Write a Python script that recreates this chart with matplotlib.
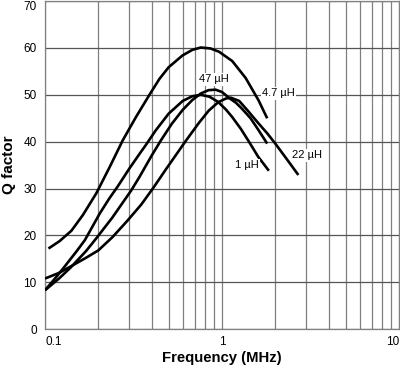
import matplotlib
matplotlib.use("Agg")
from matplotlib import pyplot as plt
from matplotlib.ticker import FixedLocator, NullFormatter

plt.rcParams['font.family'] = ['Liberation Sans', 'DejaVu Sans']

# curves (frequency in MHz, Q factor)
f_4u7 = [0.1046, 0.121, 0.141, 0.164, 0.195, 0.232, 0.275, 0.327, 0.389, 0.443, 0.5,
         0.598, 0.68, 0.759, 0.86, 0.962, 1.143, 1.36, 1.61, 1.8]
q_4u7 = [17.2, 18.8, 21.0, 24.4, 29.0, 34.6, 40.3, 45.3, 50.0, 53.4, 55.9,
         58.4, 59.6, 60.1, 59.9, 59.2, 57.2, 53.6, 48.8, 45.0]

f_1u = [0.1, 0.115, 0.13, 0.15, 0.168, 0.204, 0.23, 0.258, 0.3, 0.342, 0.373, 0.42,
        0.5, 0.6, 0.68, 0.76, 0.85, 0.95, 1.05, 1.14, 1.28, 1.42, 1.6, 1.84]
q_1u = [8.3, 11.0, 13.5, 16.5, 19.0, 24.7, 27.8, 30.5, 34.3, 37.4, 39.4, 42.3,
        46.0, 48.7, 49.7, 50.0, 49.6, 48.5, 46.9, 45.3, 42.7, 40.0, 36.8, 33.8]

f_47u = [0.1, 0.12, 0.14, 0.17, 0.196, 0.24, 0.307, 0.342, 0.4, 0.452, 0.52, 0.6,
         0.68, 0.76, 0.84, 0.92, 1.0, 1.1, 1.2, 1.3, 1.45, 1.6, 1.8]
q_47u = [8.3, 10.8, 13.2, 16.6, 19.5, 23.8, 29.6, 32.5, 37.0, 40.3, 43.8, 46.8,
         48.9, 50.3, 51.0, 51.1, 50.6, 49.3, 48.3, 47.0, 45.0, 42.6, 39.6]

f_22u = [0.1, 0.12, 0.14, 0.17, 0.2, 0.24, 0.29, 0.35, 0.41, 0.48, 0.55, 0.625, 0.74,
         0.84, 0.95, 1.05, 1.12, 1.25, 1.4, 1.6, 1.8, 2.0, 2.3, 2.7]
q_22u = [10.8, 12.0, 13.4, 15.2, 16.8, 19.6, 23.0, 26.6, 30.2, 34.0, 37.2, 40.2, 44.0,
         46.6, 48.4, 49.2, 49.4, 48.7, 46.6, 44.0, 41.8, 39.6, 36.5, 32.9]

labels = ['47 µH', '4.7 µH', '22 µH', '1 µH']
label_f = [0.9, 2.09, 3.04, 1.38]
label_q = [53.3, 50.3, 37.1, 35.0]

fig = plt.figure(figsize=(4.0, 3.69), dpi=100)
ax = fig.add_axes([0.1125, 0.108, 0.885, 0.889])

for f, q in [(f_4u7, q_4u7), (f_1u, q_1u), (f_47u, q_47u), (f_22u, q_22u)]:
    ax.plot(f, q, color='black', lw=1.9, solid_capstyle='butt',
            solid_joinstyle='round', zorder=3)

for txt, x, y in zip(labels, label_f, label_q):
    ax.text(x, y, txt, fontsize=8, ha='center', va='center', zorder=4,
            bbox=dict(facecolor='white', edgecolor='none', pad=1.0))

ax.set_xscale('log')
ax.set_xlim(0.1, 10)
ax.set_ylim(0, 70)
ax.set_yticks(range(0, 71, 10))
ax.set_xticks([0.1, 1, 10])
ax.set_xticklabels(['0.1', '1', '10'])
ax.xaxis.set_minor_locator(FixedLocator([m * d for d in (0.1, 1) for m in range(2, 10)]))
ax.xaxis.set_minor_formatter(NullFormatter())
xl = ax.get_xticklabels()
xl[0].set_ha('left')
xl[-1].set_ha('right')
ax.get_yticklabels()[-1].set_va('top')

ax.grid(True, which='both', axis='x', color='#808080', lw=0.9)
ax.grid(True, which='major', axis='y', color='#555555', lw=0.9)
ax.tick_params(which='both', length=0, labelsize=8.5)
ax.tick_params(axis='x', pad=5)
ax.tick_params(axis='y', pad=6)
for s in ax.spines.values():
    s.set_color('#808080')
    s.set_linewidth(0.9)

ax.set_xlabel('Frequency (MHz)', fontsize=10.7, fontweight='bold', labelpad=2)
ax.set_ylabel('Q factor', fontsize=11, fontweight='bold', labelpad=5)

fig.savefig('out.png', dpi=100)
